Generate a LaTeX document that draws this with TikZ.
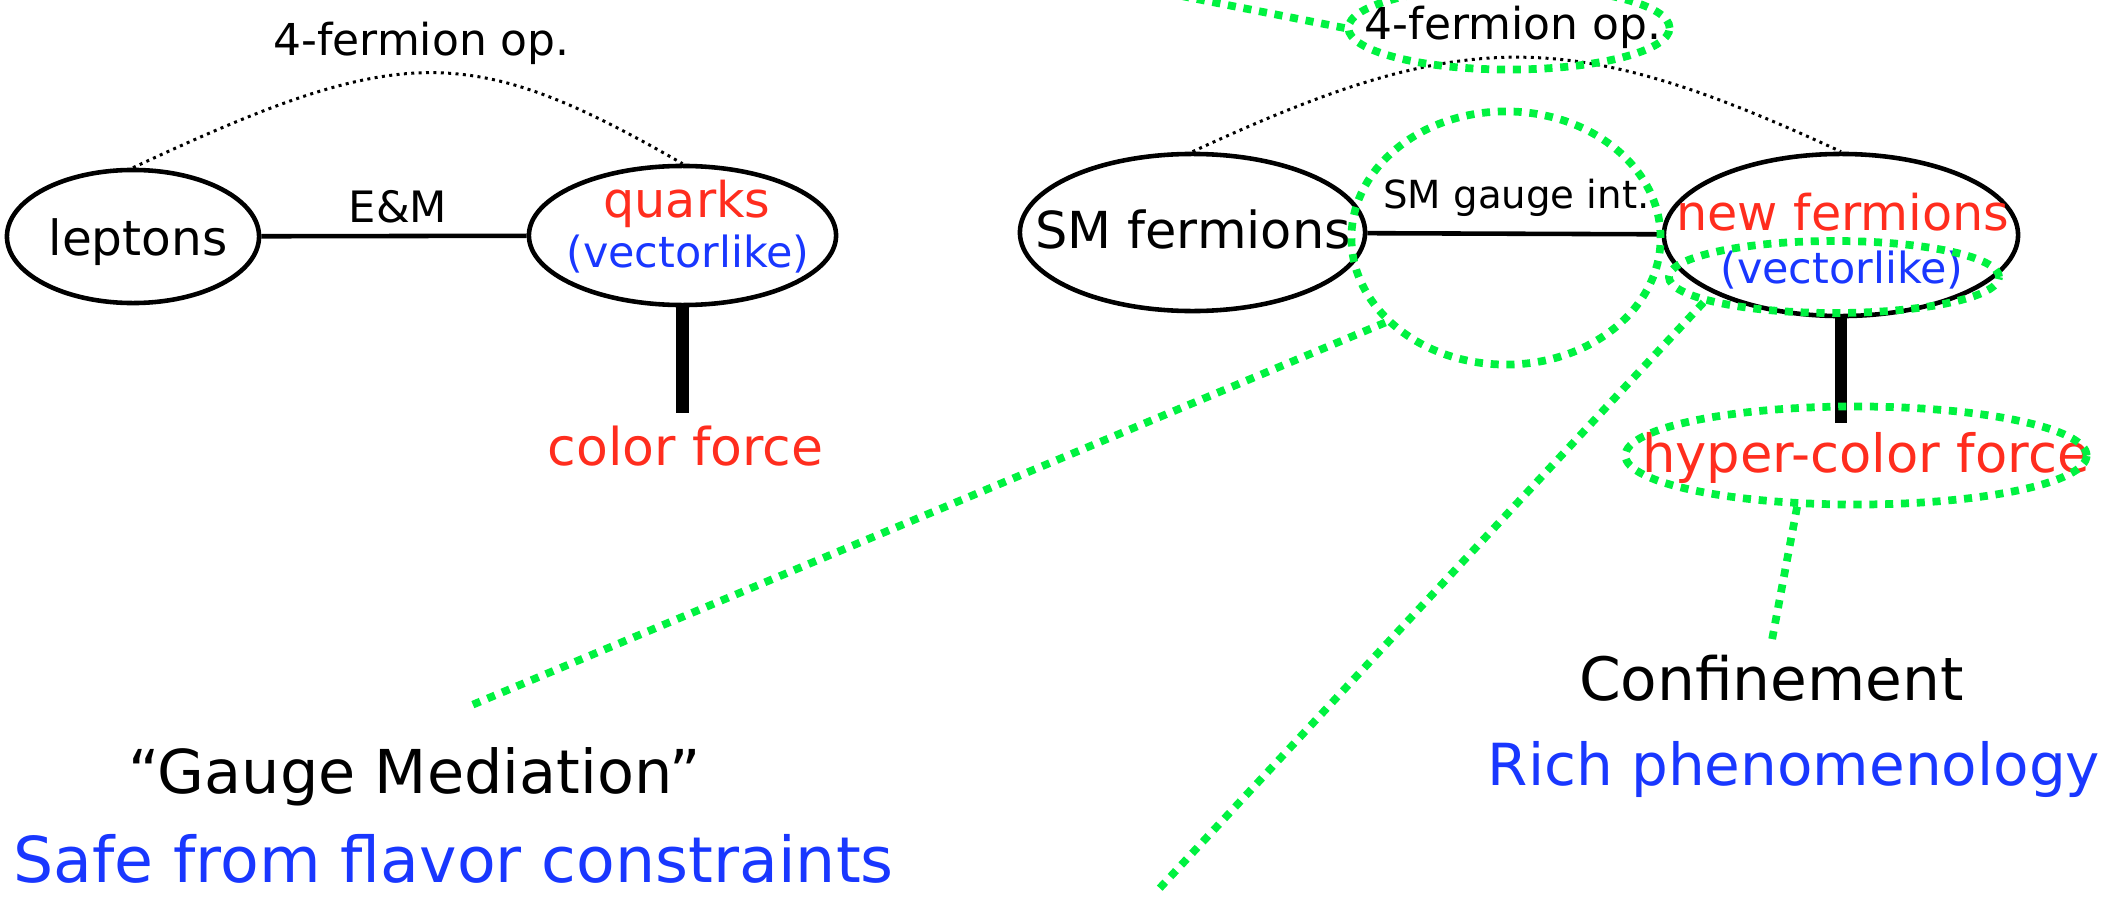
\documentclass[tikz,border=0pt]{standalone}
\usepackage{fontspec}
\setmainfont{DejaVu Sans}
\usetikzlibrary{shapes.geometric}
\definecolor{fred}{RGB}{255,45,30}
\definecolor{fblue}{RGB}{25,55,255}
\definecolor{hlgreen}{RGB}{0,242,64}
\newcommand{\fsz}[1]{\fontsize{#1}{#1}\selectfont}

\begin{document}
\begin{tikzpicture}[x=0.01cm,y=-0.01cm,
  particle/.style={ellipse, draw, line width=1.3pt, inner sep=0pt},
  txt/.style={inner sep=0pt, outer sep=0pt, anchor=base},
  force/.style={line width=1.3pt},
  strong/.style={line width=3.6pt},
  contact/.style={line width=0.85pt, dash pattern=on 0.85pt off 1.25pt},
  focus/.style={draw=hlgreen, line width=2.2pt, dash pattern=on 2.3pt off 2.2pt},
  ring/.style={ellipse, focus, inner sep=0pt}]
\useasboundingbox (0,0) rectangle (2102,897);
\clip (0,0) rectangle (2102,897);

% ---- ordinary matter: leptons and quarks ----
\node[particle, minimum width=2.52cm, minimum height=1.33cm] (leptons) at (133,236.5) {};
\node[particle, minimum width=3.07cm, minimum height=1.39cm] (quarks) at (682.5,235.5) {};
\node[txt, font={\fsz{13.8}}] (leptonsT) at (138,255) {leptons};
\node[txt, font={\fsz{14}}, text=fred] (quarksT) at (687,217) {quarks};
\node[txt, font={\fsz{12.2}}, text=fblue] (vlL) at (688,267) {(vectorlike)};
\node[txt, font={\fsz{14.8}}, text=fred] (colorforce) at (685.5,465) {color force};
\node[txt, font={\fsz{12.5}}] (fourL) at (421.5,55) {4-fermion op.};

\draw[force] (leptons) -- (quarks)
  node[midway, txt, font={\fsz{12.3}}, xshift=0.04cm, yshift=0.14cm] (em) {E\&M};
\draw[strong] (quarks.south) -- ([yshift=0.12cm]quarks.south |- colorforce.north);
\draw[contact] (leptons.north) .. controls +(266,-124) and +(-215,-124) .. (quarks.north);

% ---- SM fermions and new fermions ----
\node[particle, minimum width=3.45cm, minimum height=1.57cm] (smf) at (1192.5,232.5) {};
\node[particle, minimum width=3.54cm, minimum height=1.62cm] (newf) at (1841,235) {};
\node[txt, font={\fsz{14.5}}] (smfT) at (1193,248) {SM fermions};
\node[txt, font={\fsz{14}}, text=fred] (newfT) at (1843,230) {new fermions};
\node[txt, font={\fsz{12.2}}, text=fblue] (vlR) at (1842,283) {(vectorlike)};
\node[txt, font={\fsz{15}}, text=fred] (hyper) at (1866,472) {hyper-color force};
\node[txt, font={\fsz{12.5}}] (fourR) at (1513,40) {4-fermion op.};

\draw[force] (smf) -- (newf)
  node[midway, txt, font={\fsz{11}}, xshift=0.02cm, yshift=0.25cm] (gaugeint) {SM gauge int.};
\draw[strong] (newf.south) -- ([yshift=0.09cm]newf.south |- hyper.north);
\draw[contact] (smf.north) .. controls +(272,-126) and +(-272,-126) .. (newf.north);

% ---- consequences ----
\node[txt, font={\fsz{17}}] (conf) at (1771.5,700) {Confinement};
\node[txt, font={\fsz{16.5}}, text=fblue] (rich) at (1794,785) {Rich phenomenology};
\node[txt, font={\fsz{17.2}}] (gauge) at (414.5,793) {“Gauge Mediation”};
\node[txt, font={\fsz{18}}, text=fblue] (safe) at (453.5,882) {Safe from flavor constraints};

% ---- highlighted rings and pointers ----
\node[ring, minimum width=3.21cm, minimum height=0.83cm] (fourRing) at (1509,28) {};
\node[ring, minimum width=3.09cm, minimum height=2.53cm] (gaugeRing) at (1506,238) {};
\node[ring, minimum width=3.30cm, minimum height=0.72cm] (vlRing) at (1834,277) {};
\node[ring, minimum width=4.61cm, minimum height=0.98cm] (hyperRing) at (1856,455.5) {};
\coordinate (skyEnd) at (1100,-20);
\coordinate (gmEnd) at (472,705);
\coordinate (lowEnd) at (1158,890);
\draw[focus] (fourRing.west) -- (skyEnd);
\draw[focus] (gaugeRing.215) -- (gmEnd);
\draw[focus] (vlRing.191) -- (lowEnd);
\draw[focus] (hyperRing.221) -- ([yshift=0.12cm]conf.north);
\end{tikzpicture}
\end{document}
